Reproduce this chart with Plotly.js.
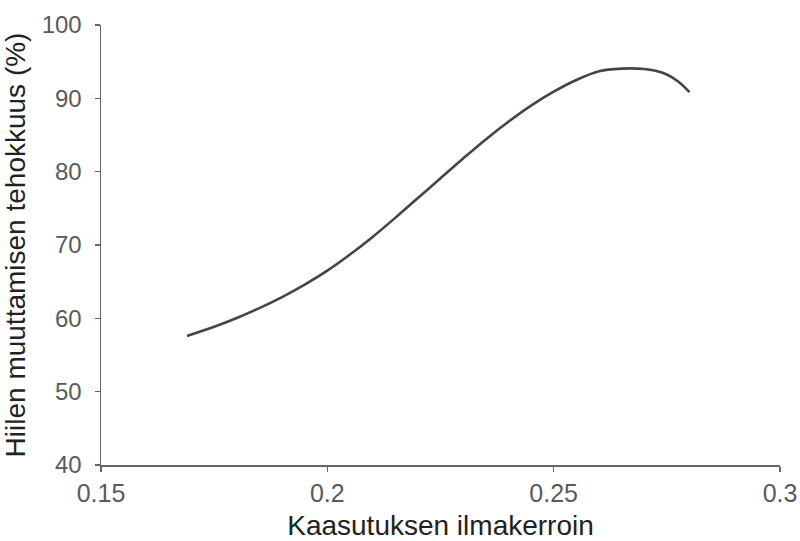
<!DOCTYPE html>
<html>
<head>
<meta charset="utf-8">
<script src="https://cdn.plot.ly/plotly-3.0.1.min.js"></script>
<style>html,body{margin:0;padding:0;background:#fff;}#chart{width:800px;height:541px;}</style>
</head>
<body>
<div id="chart"></div>
<script>
var airRatio = [0.169, 0.175, 0.18, 0.185, 0.19, 0.195, 0.2, 0.205, 0.21, 0.215, 0.22, 0.225, 0.23, 0.235, 0.24, 0.245, 0.25, 0.255, 0.26, 0.265, 0.27, 0.2725, 0.275, 0.2775, 0.28];
var efficiency = [57.6, 58.85, 60.05, 61.4, 62.9, 64.6, 66.5, 68.7, 71.1, 73.7, 76.4, 79.1, 81.8, 84.4, 86.8, 89.0, 90.9, 92.5, 93.7, 94.05, 94.0, 93.75, 93.25, 92.3, 90.85];
var xTicks = [0.15, 0.2, 0.25, 0.3];
var xTickText = ["0.15", "0.2", "0.25", "0.3"];
var yTicks = [40, 50, 60, 70, 80, 90, 100];

var trace = {
  x: airRatio, y: efficiency, type: 'scatter', mode: 'lines',
  line: {color: '#454545', width: 2.6, shape: 'spline', smoothing: 1},
  hoverinfo: 'skip'
};
var layout = {
  width: 800, height: 541,
  margin: {l: 101, r: 20, t: 25, b: 76},
  paper_bgcolor: '#fff', plot_bgcolor: '#fff',
  showlegend: false,
  font: {family: 'Liberation Sans, Arial, sans-serif', color: '#555'},
  xaxis: {
    range: [0.15, 0.3], tickvals: xTicks, ticktext: xTickText,
    showgrid: false, zeroline: false, showline: true, linecolor: '#666', linewidth: 1.5,
    ticks: 'outside', ticklen: 5, tickwidth: 1.5, tickcolor: '#666',
    tickfont: {size: 25, color: '#5a5a5a'},
    title: {text: 'Kaasutuksen ilmakerroin', font: {size: 28, color: '#222'}, standoff: 14}
  },
  yaxis: {
    range: [40, 100], tickvals: yTicks,
    showgrid: false, zeroline: false, showline: true, linecolor: '#666', linewidth: 1.5,
    ticks: 'outside', ticklen: 5, tickwidth: 1.5, tickcolor: '#666',
    tickfont: {size: 24, color: '#5a5a5a'}, ticklabelstandoff: 8,
    title: {text: 'Hiilen muuttamisen tehokkuus (%)', font: {size: 28, color: '#222'}, standoff: 10}
  }
};
Plotly.newPlot('chart', [trace], layout, {displayModeBar: false, staticPlot: true});
</script>
</body>
</html>
